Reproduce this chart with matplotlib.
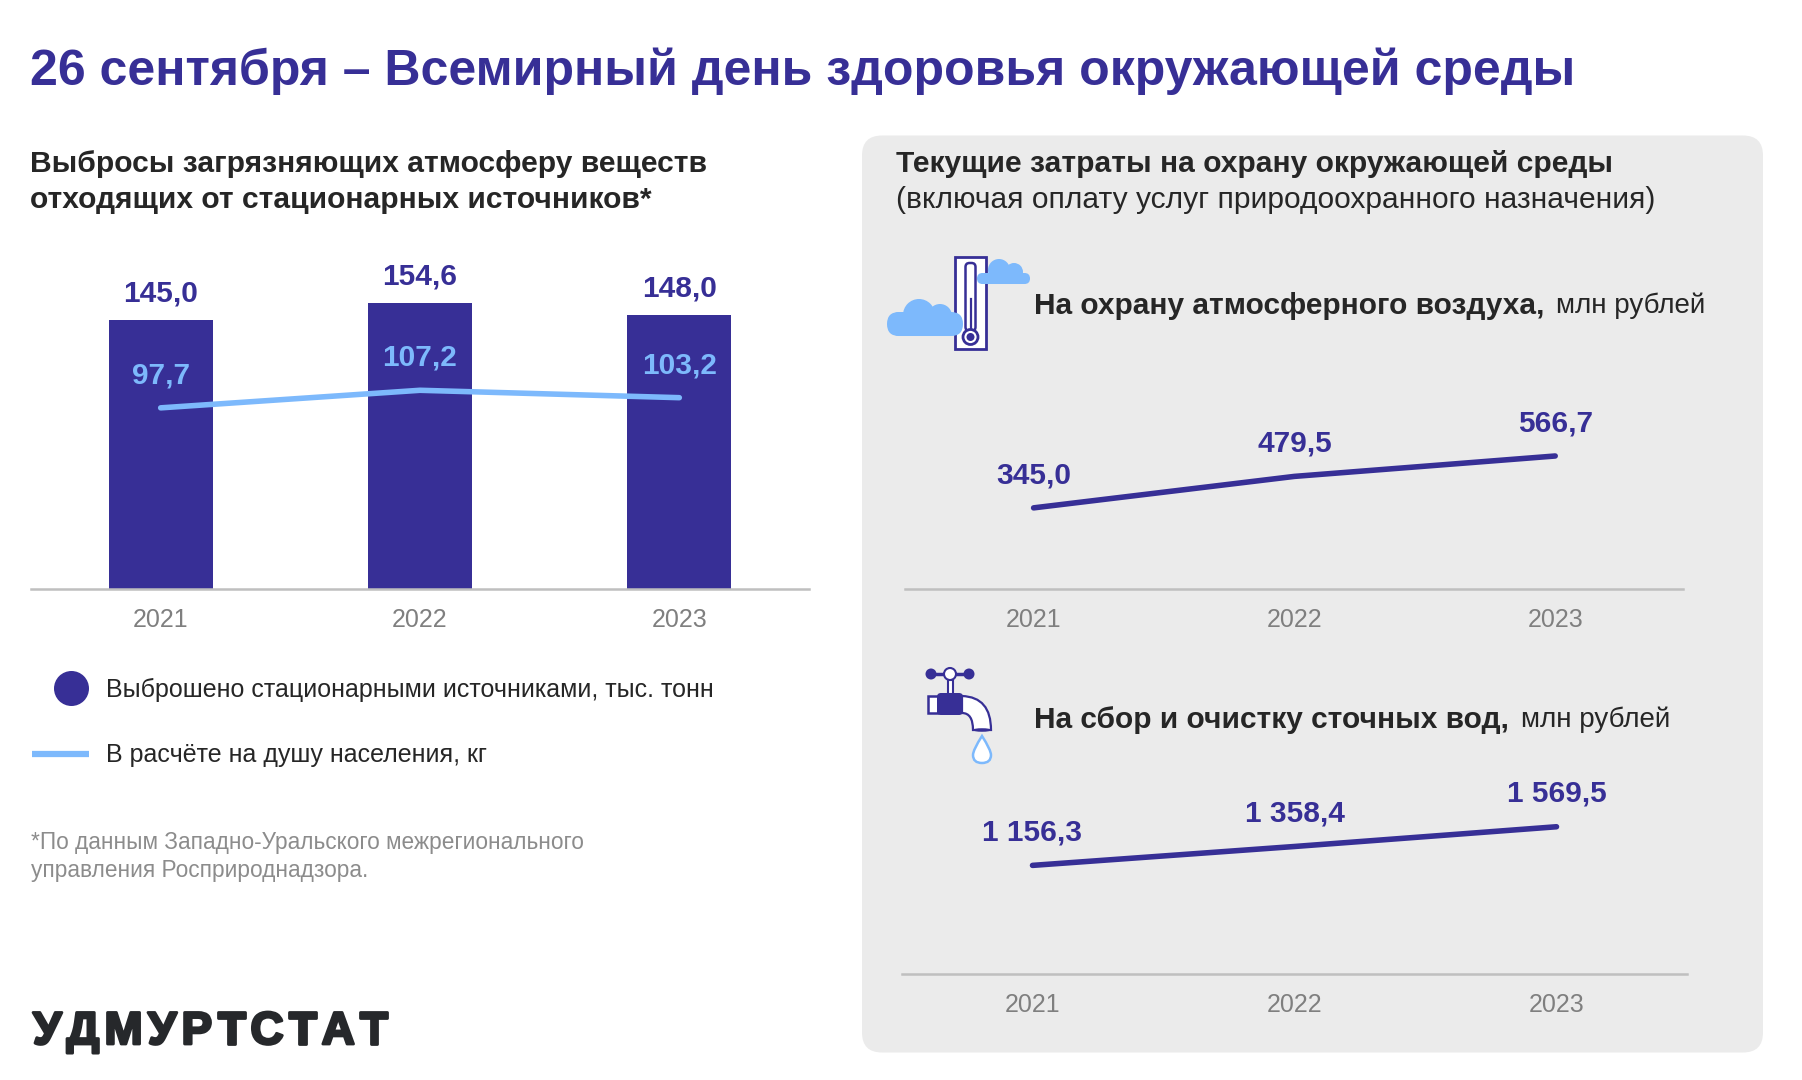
import matplotlib
matplotlib.use('Agg')
import matplotlib.pyplot as plt
from matplotlib.patches import Circle, Ellipse, FancyBboxPatch, PathPatch, Rectangle
from matplotlib.path import Path
import matplotlib.patheffects as pe

plt.rcParams['font.family'] = ['Liberation Sans', 'DejaVu Sans']

NAVY = '#372F96'
LIGHT = '#7DB9FC'
DARK = '#262626'
GRAY = '#7F7F7F'
AXIS = '#BFBFBF'
PANEL = '#EBEBEB'
W, H = 1802, 1080

years = ['2021', '2022', '2023']
emitted = [145.0, 154.6, 148.0]
emitted_labels = ['145,0', '154,6', '148,0']
per_capita = [97.7, 107.2, 103.2]
per_capita_labels = ['97,7', '107,2', '103,2']
air_costs = [345.0, 479.5, 566.7]
air_labels = ['345,0', '479,5', '566,7']
water_costs = [1156.3, 1358.4, 1569.5]
water_labels = ['1 156,3', '1 358,4', '1 569,5']

fig = plt.figure(figsize=(W / 100, H / 100), dpi=100, facecolor='white')

# background layer in pixel coordinates
bg = fig.add_axes([0, 0, 1, 1], zorder=0)
bg.set_xlim(0, W)
bg.set_ylim(H, 0)
bg.axis('off')


def make_axes(x0, x1, y_top, y_base, ymax, xlim=(-0.5, 2.5)):
    ax = fig.add_axes([x0 / W, 1 - y_base / H, (x1 - x0) / W, (y_base - y_top) / H], zorder=2)
    ax.patch.set_alpha(0)
    ax.set_xlim(*xlim)
    ax.set_ylim(0, ymax)
    for s in ['top', 'left', 'right']:
        ax.spines[s].set_visible(False)
    ax.spines['bottom'].set_color(AXIS)
    ax.spines['bottom'].set_linewidth(1.8)
    ax.set_yticks([])
    ax.set_xticks(range(3))
    ax.set_xticklabels(years, color=GRAY, fontsize=18)
    ax.tick_params(axis='x', length=0, pad=14)
    return ax


def labels(ax, vals, texts, color, dy):
    for i, (v, t) in enumerate(zip(vals, texts)):
        ax.annotate(t, (i, v), xytext=(0, dy), textcoords='offset pixels', ha='center',
                    va='center', color=color, fontsize=21.5, fontweight='bold')


def line(ax, vals, color):
    ax.plot(range(3), vals, color=color, lw=4, solid_capstyle='round', solid_joinstyle='round')


# left chart
ax1 = make_axes(31, 809, 256.6, 588.6, 332 / 1.85)
ax1.bar(range(3), emitted, width=0.4, color=NAVY)
line(ax1, per_capita, LIGHT)
labels(ax1, emitted, emitted_labels, NAVY, 26.5)
labels(ax1, per_capita, per_capita_labels, LIGHT, 32.5)

# panel
bg.add_patch(FancyBboxPatch((880, 153.5), 865, 881, boxstyle='round,pad=18,rounding_size=20',
                            fc=PANEL, ec='none', zorder=0))

# right charts
ax2 = make_axes(904.5, 1683, 396.6, 588.6, 192 / 0.234, xlim=(-0.495, 2.49))
line(ax2, air_costs, NAVY)
labels(ax2, air_costs, air_labels, NAVY, 32.5)

ax3 = make_axes(901.5, 1687.5, 764.5, 973.5, 209 / 0.0935)
line(ax3, water_costs, NAVY)
labels(ax3, water_costs, water_labels, NAVY, 33)


def txt(x, y, s, size, color=DARK, weight='normal', **kw):
    return bg.text(x, y, s, fontsize=size, color=color, fontweight=weight, va='center', ha='left', **kw)


txt(30, 71, '26 сентября – Всемирный день здоровья окружающей среды', 36, NAVY, 'bold')
txt(30, 164, 'Выбросы загрязняющих атмосферу веществ', 21.63, DARK, 'bold')
txt(30, 200, 'отходящих от стационарных источников*', 21.63, DARK, 'bold')
txt(896, 164, 'Текущие затраты на охрану окружающей среды', 21.6, DARK, 'bold')
txt(896, 200, '(включая оплату услуг природоохранного назначения)', 21.6, DARK)
txt(1034.5, 306, 'На охрану атмосферного воздуха,', 21.5, DARK, 'bold')
txt(1556, 306, 'млн рублей', 20, DARK)
txt(1034.5, 720, 'На сбор и очистку сточных вод,', 21.5, DARK, 'bold')
txt(1521, 720, 'млн рублей', 20, DARK)

# legend
bg.add_patch(Circle((71.5, 688.5), 17.5, fc=NAVY, ec='none'))
bg.plot([32, 89], [754, 754], color=LIGHT, lw=4.5, solid_capstyle='butt')
txt(106, 690, 'Выброшено стационарными источниками, тыс. тонн', 18)
txt(106, 755, 'В расчёте на душу населения, кг', 18)

# footnote
txt(31, 843, '*По данным Западно-Уральского межрегионального', 16.3, '#8C8C8C')
txt(31, 871, 'управления Росприроднадзора.', 16.3, '#8C8C8C')

# logo, drawn letter by letter because of its wide tracking
fig.canvas.draw()
rend = fig.canvas.get_renderer()
logo_x = 33
for ch in 'УДМУРТСТАТ':
    t = txt(logo_x, 1032, ch, 33, '#26282B', 'bold')
    t.set_path_effects([pe.withStroke(linewidth=2, foreground='#26282B')])
    logo_x += t.get_window_extent(rend).width + 5.1


def cloud(circles, base):
    x, y, w, h = base
    bg.add_patch(FancyBboxPatch((x + h / 2, y + h / 2), w - h, 0.01,
                                boxstyle='round,pad=%f,rounding_size=%f' % (h / 2, h / 2),
                                fc=LIGHT, ec='none', zorder=3))
    for cx, cy, r in circles:
        bg.add_patch(Circle((cx, cy), r, fc=LIGHT, ec='none', zorder=3))


# thermometer icon
bg.add_patch(Rectangle((955, 257), 31, 92, fc='white', ec=NAVY, lw=2, zorder=2))
bg.add_patch(FancyBboxPatch((968.5, 266), 4, 62, boxstyle='round,pad=3,rounding_size=4',
                            fc='white', ec=NAVY, lw=1.8, zorder=2))
bg.add_patch(Circle((970.5, 337), 7.5, fc='white', ec=NAVY, lw=2, zorder=3.5))
bg.add_patch(Circle((970.5, 337), 4, fc=NAVY, ec='none', zorder=3.6))
bg.plot([970.5, 970.5], [299, 337], color=NAVY, lw=1.6, zorder=2.5)
cloud([(919, 315, 16), (940, 316, 12), (900, 324, 12)], (887, 312, 76, 24))
cloud([(999, 270, 11), (1014, 272, 9)], (977, 273, 53, 11))

# tap icon
bg.plot([931, 969], [674, 674], color=NAVY, lw=2.5, zorder=2)
bg.add_patch(Rectangle((947.5, 680), 5, 14, fc='white', ec=NAVY, lw=1.5, zorder=2))
for cx in [931, 969]:
    bg.add_patch(Circle((cx, 674), 5.5, fc=NAVY, ec='none', zorder=3))
bg.add_patch(Circle((950, 674), 6, fc='white', ec=NAVY, lw=1.5, zorder=3))
bg.add_patch(Rectangle((928, 696), 10, 17, fc='white', ec=NAVY, lw=1.8, zorder=2))
spout = Path([(962, 696), (991, 697), (991, 730), (973, 730), (973, 713), (962, 713), (962, 696)],
             [Path.MOVETO, Path.CURVE3, Path.CURVE3, Path.LINETO, Path.CURVE3, Path.CURVE3, Path.CLOSEPOLY])
bg.add_patch(PathPatch(spout, fc='white', ec=NAVY, lw=1.6, zorder=2))
bg.add_patch(FancyBboxPatch((941, 697), 18, 14, boxstyle='round,pad=4,rounding_size=4',
                            fc=NAVY, ec='none', zorder=3))
bg.add_patch(Ellipse((982, 730), 18, 3.5, fc=NAVY, ec='none', zorder=3))
drop = Path([(982, 736), (973, 750), (973, 755), (973, 763), (982, 763), (991, 763), (991, 755),
             (991, 750), (982, 736), (982, 736)],
            [Path.MOVETO, Path.CURVE3, Path.CURVE3, Path.CURVE3, Path.CURVE3, Path.CURVE3, Path.CURVE3,
             Path.CURVE3, Path.CURVE3, Path.CLOSEPOLY])
bg.add_patch(PathPatch(drop, fc='white', ec=LIGHT, lw=1.8, zorder=3))

fig.savefig('out.png', dpi=100, facecolor='white')
